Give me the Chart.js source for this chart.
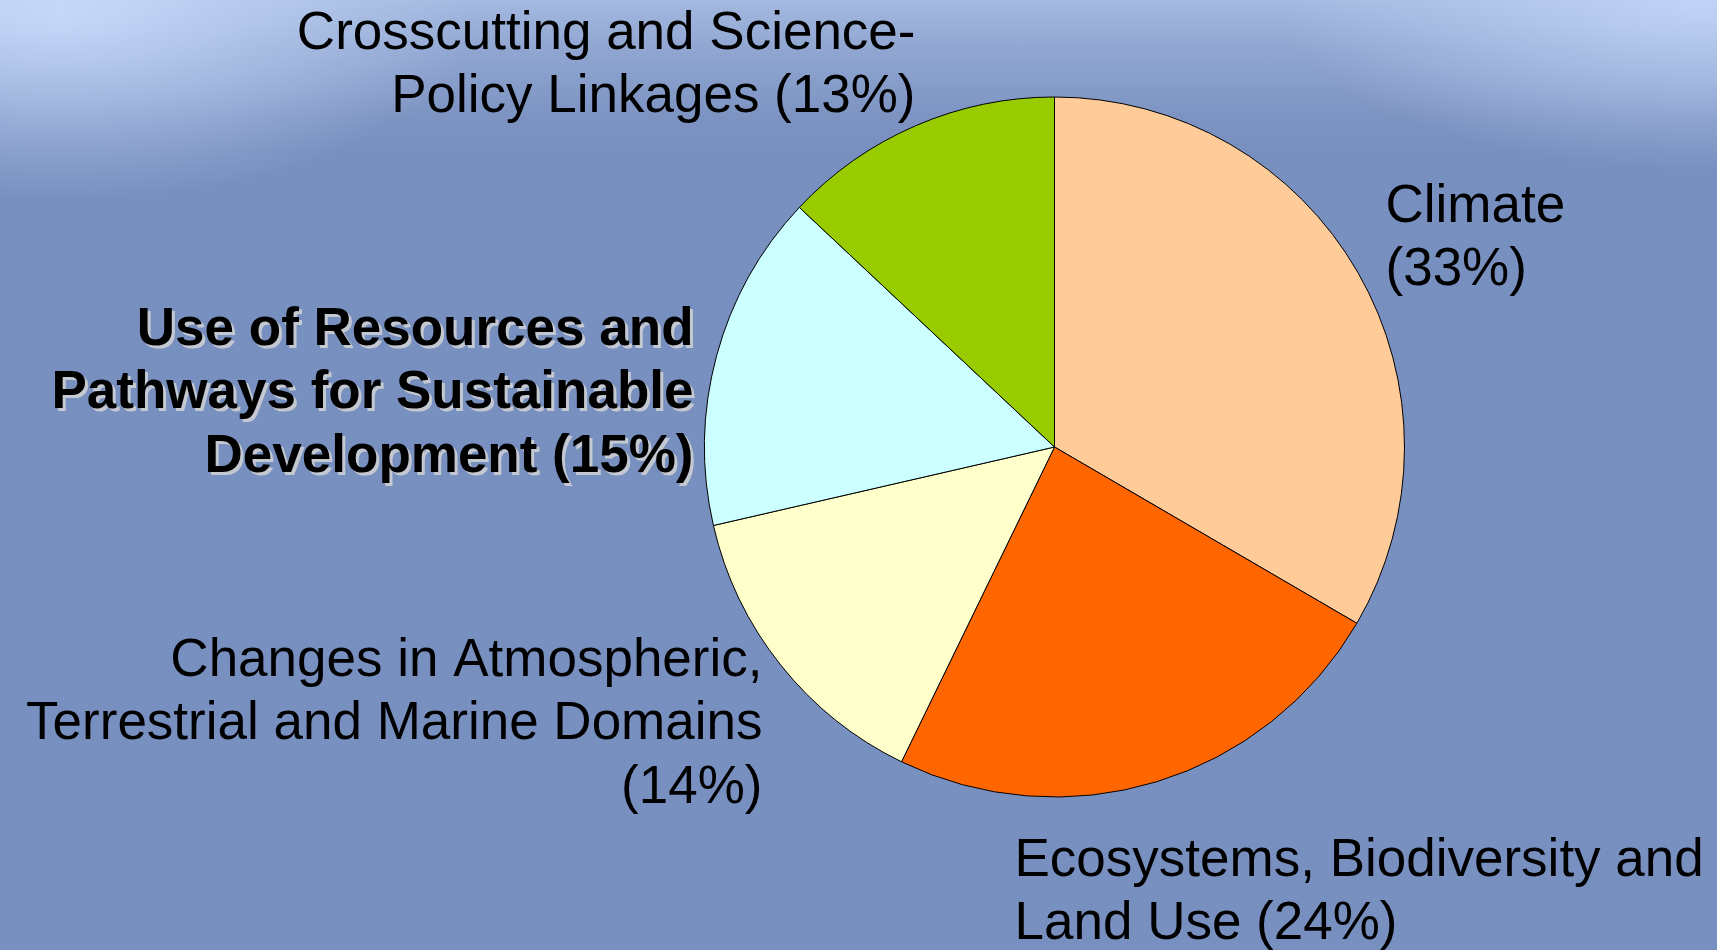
<!DOCTYPE html>
<html>
<head>
<meta charset="utf-8">
<script src="https://cdn.jsdelivr.net/npm/chart.js@4/dist/chart.umd.min.js"></script>
<style>
  html, body { margin: 0; padding: 0; overflow: hidden; }
  body {
    width: 1717px; height: 950px;
    background:
      radial-gradient(ellipse 420px 190px at 60px 10px, rgba(205,222,255,0.85), rgba(205,222,255,0) 100%),
      radial-gradient(ellipse 420px 170px at 1700px 0px, rgba(200,218,252,0.8), rgba(200,218,252,0) 100%),
      linear-gradient(to bottom, #a4b9e0 0px, #90a6d1 50px, #7c93c2 120px, #7890c0 150px, #7890c0 950px);
  }
  #wrap { position: absolute; left: 0; top: 0; width: 1717px; height: 950px; }
</style>
</head>
<body>
<div id="wrap"><canvas id="chart-share" width="1717" height="950"></canvas></div>
<script>
// slice data, clockwise from 12 o'clock
var categories = [
    "Climate",
    "Ecosystems, Biodiversity and Land Use",
    "Changes in Atmospheric, Terrestrial and Marine Domains",
    "Use of Resources and Pathways for Sustainable Development",
    "Crosscutting and Science-Policy Linkages"
];
var shares = [33.4, 23.8, 14.2, 15.6, 13.0];
var sliceColors = ["#FFCC99", "#FF6600", "#FFFFCC", "#CCFFFF", "#99CC00"];
var labelLines = [
    ["Climate", "(33%)"],
    ["Ecosystems, Biodiversity and", "Land Use (24%)"],
    ["Changes in Atmospheric,", "Terrestrial and Marine Domains", "(14%)"],
    ["Use of Resources and", "Pathways for Sustainable", "Development (15%)"],
    ["Crosscutting and Science-", "Policy Linkages (13%)"]
];

// where each label sits, relative to the pie centre
var labelLayout = [
    { dx: 331, dy: -240, align: "left", bold: false },
    { dx: -40, dy: 414, align: "left", bold: false },
    { dx: -292, dy: 214, align: "right", bold: false },
    { dx: -361, dy: -117, align: "right", bold: true },
    { dx: -139, dy: -413, align: "right", bold: false }
];

var sliceLabels = {
    id: "sliceLabels",
    afterDraw: function (chart) {
        var ctx = chart.ctx;
        var arc = chart.getDatasetMeta(0).data[0];
        var cx = arc.x, cy = arc.y;
        var lineH = 63.5;
        ctx.save();
        ctx.textBaseline = "middle";
        labelLines.forEach(function (lines, i) {
            var lay = labelLayout[i];
            ctx.textAlign = lay.align;
            ctx.font = (lay.bold ? "bold " : "") + "53px 'Liberation Sans', Arial, sans-serif";
            lines.forEach(function (txt, j) {
                var x = cx + lay.dx, y = cy + lay.dy + j * lineH;
                if (lay.bold) {
                    ctx.fillStyle = "#c4c8d0";
                    ctx.fillText(txt, x + 3, y + 3);
                }
                ctx.fillStyle = "#000";
                ctx.fillText(txt, x, y);
            });
        });
        ctx.restore();
    }
};

new Chart("chart-share", {
    type: "pie",
    data: {
        labels: categories,
        datasets: [{
            data: shares,
            backgroundColor: sliceColors,
            borderColor: "#000",
            borderWidth: 1,
            hoverOffset: 0
        }]
    },
    options: {
        responsive: false,
        animation: false,
        layout: {
            padding: { left: 704, right: 312, top: 96, bottom: 152 }
        },
        plugins: {
            legend: { display: false },
            tooltip: { enabled: false }
        }
    },
    plugins: [sliceLabels]
});
</script>
</body>
</html>
